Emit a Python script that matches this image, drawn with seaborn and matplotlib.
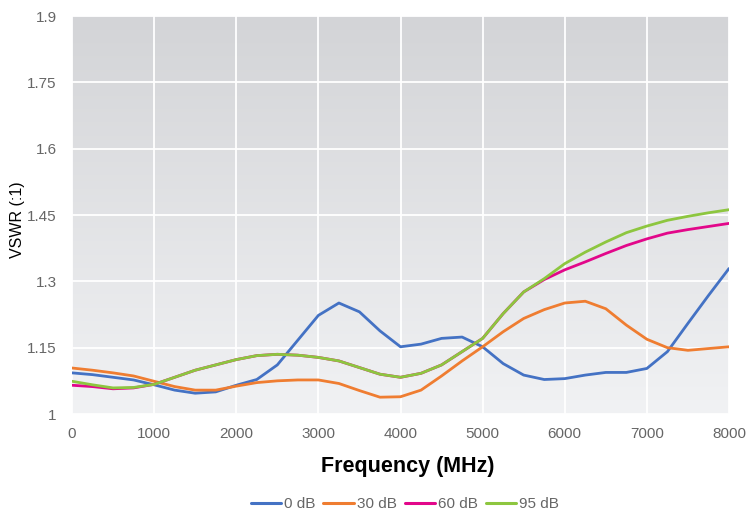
import numpy as np
import pandas as pd
import matplotlib
matplotlib.use("Agg")
import matplotlib.pyplot as plt
import seaborn as sns
from matplotlib.colors import LinearSegmentedColormap

freq = [0, 250, 500, 750, 1000, 1250, 1500, 1750, 2000, 2250, 2500, 2750, 3000,
        3250, 3500, 3750, 4000, 4250, 4500, 4750, 5000, 5250, 5500, 5750, 6000,
        6250, 6500, 6750, 7000, 7250, 7500, 7750, 8000]

vswr_0db = [1.093, 1.089, 1.083, 1.077, 1.066, 1.054, 1.047, 1.050, 1.065, 1.078, 1.111,
            1.167, 1.223, 1.251, 1.231, 1.188, 1.152, 1.158, 1.171, 1.174, 1.152, 1.114,
            1.088, 1.078, 1.080, 1.088, 1.094, 1.094, 1.103, 1.141, 1.205, 1.268, 1.329]
vswr_30db = [1.104, 1.099, 1.093, 1.086, 1.074, 1.062, 1.054, 1.054, 1.063, 1.071, 1.075,
             1.077, 1.077, 1.069, 1.053, 1.038, 1.039, 1.054, 1.086, 1.120, 1.152, 1.186,
             1.216, 1.236, 1.251, 1.255, 1.238, 1.201, 1.169, 1.150, 1.144, 1.148, 1.152]
vswr_60db = [1.065, 1.062, 1.057, 1.059, 1.067, 1.083, 1.099, 1.111, 1.123, 1.132, 1.135,
             1.133, 1.128, 1.120, 1.105, 1.090, 1.083, 1.092, 1.111, 1.141, 1.171, 1.227,
             1.276, 1.304, 1.326, 1.344, 1.363, 1.381, 1.396, 1.409, 1.417, 1.424, 1.431]
vswr_95db = [1.074, 1.066, 1.059, 1.060, 1.067, 1.083, 1.099, 1.111, 1.123, 1.132, 1.135,
             1.133, 1.128, 1.120, 1.105, 1.090, 1.083, 1.092, 1.111, 1.141, 1.171, 1.227,
             1.276, 1.306, 1.340, 1.366, 1.389, 1.410, 1.425, 1.438, 1.447, 1.455, 1.462]

series_names = ["0 dB", "30 dB", "60 dB", "95 dB"]
colors = ["#4472c4", "#ef7d31", "#e2078a", "#8dc63f"]
y_ticks = [1, 1.15, 1.3, 1.45, 1.6, 1.75, 1.9]
y_tick_labels = ["1", "1.15", "1.3", "1.45", "1.6", "1.75", "1.9"]
x_ticks = [0, 1000, 2000, 3000, 4000, 5000, 6000, 7000, 8000]

df = pd.concat([
    pd.DataFrame({"Frequency": freq, "VSWR": vals, "Series": name})
    for name, vals in zip(series_names, [vswr_0db, vswr_30db, vswr_60db, vswr_95db])
], ignore_index=True)

sns.set_theme(style="white")
plt.rcParams["font.family"] = ["Liberation Sans", "DejaVu Sans"]

fig = plt.figure(figsize=(7.53, 5.13), dpi=100)
ax = fig.add_axes([72 / 753, (513 - 414) / 513, (729 - 72) / 753, (414 - 16) / 513])

# gradient background
grad = np.linspace(0, 1, 256).reshape(-1, 1)
cmap = LinearSegmentedColormap.from_list("bg", ["#d3d4d7", "#f1f2f4"])
ax.imshow(grad, extent=[0, 1, 0, 1], transform=ax.transAxes, aspect="auto",
          cmap=cmap, zorder=0, origin="upper")

sns.lineplot(data=df, x="Frequency", y="VSWR", hue="Series", hue_order=series_names,
             palette=colors, linewidth=2.0, ax=ax, zorder=3, legend=True)
for ln in ax.get_lines():
    ln.set_solid_joinstyle("round")
    ln.set_solid_capstyle("round")

ax.set_xlim(0, 8000)
ax.set_ylim(1, 1.9)
ax.set_xticks(x_ticks)
ax.set_xticklabels([str(v) for v in x_ticks])
ax.set_yticks(y_ticks)
ax.set_yticklabels(y_tick_labels)
ax.grid(True, color="white", linewidth=1.3, zorder=1)
ax.set_axisbelow(True)
for s in ax.spines.values():
    s.set_visible(False)
ax.tick_params(axis="both", length=0, labelsize=11, labelcolor="#666666")
ax.tick_params(axis="x", pad=9)
ax.tick_params(axis="y", pad=11)

ax.set_xlabel("Frequency (MHz)", fontsize=15.5, fontweight="bold", color="black")
ax.xaxis.set_label_coords((408 - 72) / 657, -(456 - 414) / 398)
ax.set_ylabel("VSWR (:1)", fontsize=11.5, color="black")
ax.yaxis.set_label_coords((25 - 72) / 657, (414 - 220) / 398)

handles, labels = ax.get_legend_handles_labels()
ax.get_legend().remove()
for h in handles:
    h.set_linewidth(2.2)
fig.legend(handles, labels, loc="center", ncol=4, frameon=False,
           bbox_to_anchor=(405 / 753, 9 / 513), fontsize=11, handlelength=2.0,
           handletextpad=0.2, columnspacing=0.5, labelcolor="#666666")

fig.savefig("out.png", dpi=100)
